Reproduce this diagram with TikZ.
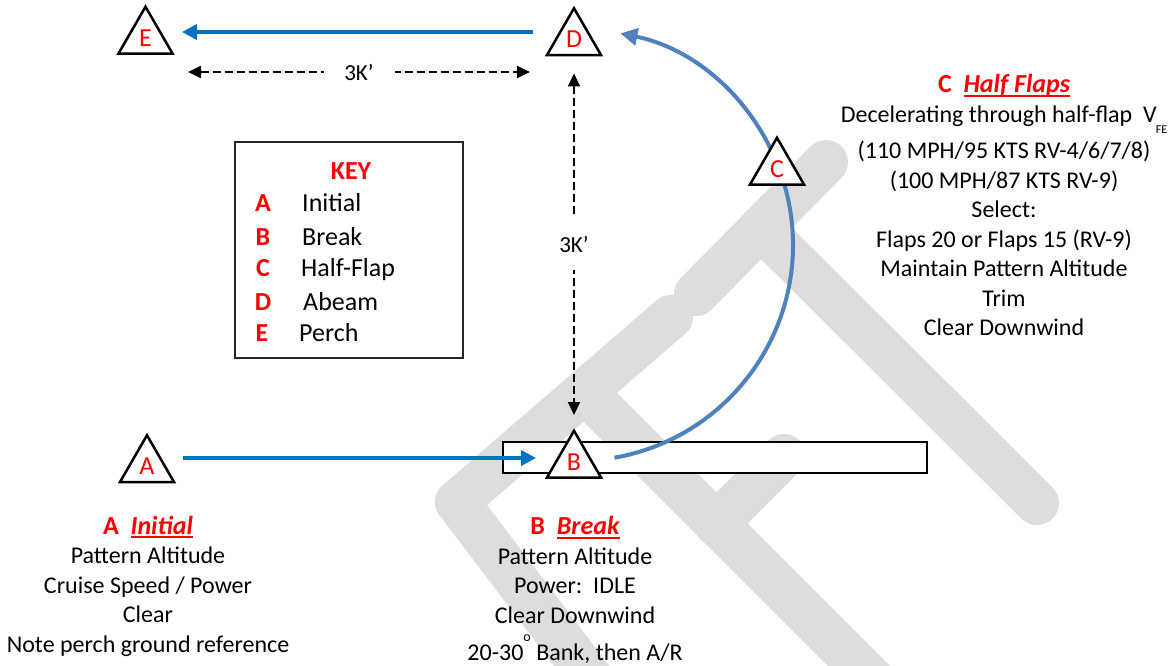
\documentclass[tikz,border=0pt]{standalone}
\usepackage{fontspec}
\setmainfont{Carlito}
\usetikzlibrary{arrows.meta,shapes.geometric,calc}

\definecolor{hdred}{RGB}{255,0,0}
\definecolor{legblue}{RGB}{0,112,192}
\definecolor{turnblue}{RGB}{79,129,189}
\definecolor{wmgray}{RGB}{221,221,221}

% red underline that sits close under the baseline
\newcommand{\redline}[1]{\setbox0\hbox{#1}\rlap{\rule[-4pt]{\wd0}{1.8pt}}\box0}
\newcommand{\bodysize}{\fontsize{24}{29.5}\selectfont}
\newcommand{\headsize}{\fontsize{26}{29.5}\selectfont}

\begin{document}
\begin{tikzpicture}[x=1pt,y=-1pt,
  fix/.style={regular polygon,regular polygon sides=3,draw=black,line width=2.5pt,
    fill=white,minimum size=62.5pt,inner sep=0pt,text=hdred,font=\fontsize{26}{26}\selectfont},
  leg/.style={legblue,line width=4pt,-{Triangle[length=15pt,width=15pt]}},
  turn/.style={turnblue,line width=4pt,-{Triangle[length=17pt,width=17pt]}},
  dimline/.style={black,line width=2pt,dash pattern=on 8pt off 4pt,
    {Triangle[length=13pt,width=12pt]}-{Triangle[length=13pt,width=12pt]}},
  dimlabel/.style={fill=white,font=\fontsize{23}{23}\selectfont,inner sep=0pt},
  body/.style={align=center,font=\bodysize,inner sep=0pt},
  keyletter/.style={anchor=base,text=hdred,font=\fontsize{26}{26}\selectfont\bfseries,inner sep=0pt},
  keyword/.style={anchor=base west,font=\fontsize{26}{26}\selectfont,inner sep=0pt},
  wm/.style={wmgray,line width=44pt,line cap=round},
]
\useasboundingbox (0,0) rectangle (1175,666);
\fill[white] (0,0) rectangle (1175,666);

% faint watermark lettering behind the diagram
\begin{scope}
  \clip (0,0) rectangle (1175,666);
  \draw[wm] (696,294) -- (826,162);
  \draw[wm] (761,228) -- (1037,503);
  \draw[wm] (457,502) -- (671,317);
  \draw[wm] (457,502) -- (600,690);
  \draw[wm] (589,396) -- (880,687);
  \draw[wm] (716,524) -- (784,456);
\end{scope}

% runway
\node[draw=black,line width=1.5pt,fill=white,minimum width=424pt,minimum height=31pt,
  inner sep=0pt] (rwy) at (715,457.5) {};

% key
\node[draw=black!85,line width=1.3pt,minimum width=228pt,minimum height=216pt,
  inner sep=0pt] (key) at (349,250) {};
\node[anchor=base,text=hdred,font=\fontsize{26}{26}\selectfont\bfseries,inner sep=0pt]
  (keyT) at (351,179.5) {KEY};
\node[keyletter] (kA) at (263,211.5) {A};
\node[keyletter] (kB) at (263,245.5) {B};
\node[keyletter] (kC) at (263,276.5) {C};
\node[keyletter] (kD) at (263,310.5) {D};
\node[keyletter] (kE) at (262,341.5) {E};
\node[keyword] (wA) at (302,211.5) {Initial};
\node[keyword] (wB) at (302,245.5) {Break};
\node[keyword] (wC) at (301,276.5) {Half-Flap};
\node[keyword] (wD) at (303,310.5) {Abeam};
\node[keyword] (wE) at (299,341.5) {Perch};

% pattern positions
\coordinate (E) at (145.5,38);
\coordinate (D) at (574,39.5);
\coordinate (C) at (777,169);
\coordinate (A) at (147,466.5);
\coordinate (B) at (574,462);

% flight path
\draw[leg] ($(D)+(-41,-7.5)$) -- ($(E)+(36.5,-6)$);
\draw[leg] ($(A)+(36,-8.5)$) -- ($(B)+(-38,-4)$);
\draw[turn] ($(B)+(40.5,-4.3)$) arc[start angle=80,end angle=-78.4,radius=216];

% distances
\draw[dimline] ($(E)+(42.5,34)$) -- node[dimlabel,minimum width=71pt,minimum height=20pt] (hlab) {3K’} ($(D)+(-44,32.5)$);
\draw[dimline] ($(D)+(0,34)$) -- node[dimlabel,minimum width=20pt,minimum height=52pt] (vlab) {3K’} ($(B)+(0,-47)$);

% position markers
\node[fix] (tE) at (E) {E};
\node[fix] (tD) at (D) {D};
\node[fix] (tC) at (C) {C};
\node[fix] (tA) at (A) {A};
\node[fix] (tB) at (B) {B};

% notes
\node[body] (noteA) at (148,586) {%
  {\headsize\bfseries\color{hdred}A\ \ \redline{\itshape Initial}}\\
  Pattern Altitude\\
  Cruise Speed / Power\\
  Clear\\
  Note perch ground reference};
\node[body] (noteB) at (575,590) {%
  {\headsize\bfseries\color{hdred}B\ \ \redline{\itshape Break}}\\
  Pattern Altitude\\
  Power:\ \ IDLE\\
  Clear Downwind\\[7.5pt]
  20-30\smash{\raisebox{19pt}{\fontsize{14}{14}\selectfont o}} Bank, then A/R};
\node[body] (noteC) at (1004,205) {%
  {\headsize\bfseries\color{hdred}C\ \ \redline{\itshape Half Flaps}}\\
  Decelerating through half-flap\ \ V\kern-1pt\smash{\raisebox{-11pt}{\fontsize{12}{12}\selectfont FE}}\\[7pt]
  (110 MPH/95 KTS RV-4/6/7/8)\\
  (100 MPH/87 KTS RV-9)\\
  Select:\\
  Flaps 20 or Flaps 15 (RV-9)\\
  Maintain Pattern Altitude\\
  Trim\\
  Clear Downwind};
\end{tikzpicture}
\end{document}
